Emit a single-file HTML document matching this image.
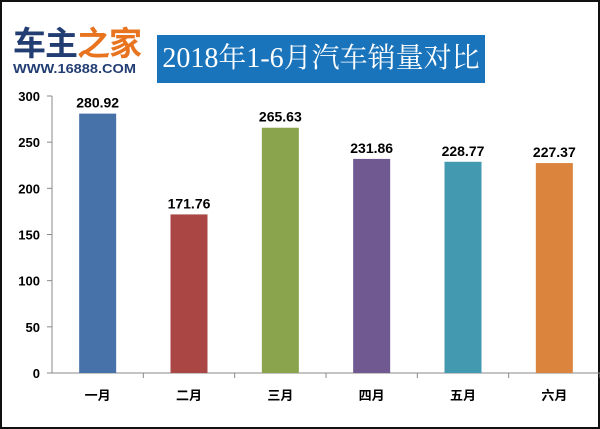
<!DOCTYPE html>
<html><head><meta charset="utf-8"><style>
body{margin:0;width:600px;height:429px;overflow:hidden;background:#fff;font-family:"Liberation Sans","Noto Sans CJK SC",sans-serif}
#frame{position:absolute;left:0;top:0;width:596px;height:425px;border:2px solid #111;background:#fff}
</style></head><body>
<div id="frame"></div>
<div style="position:absolute;left:13px;top:21px;">
<div style="font-size:33px;font-weight:bold;letter-spacing:-1px;line-height:40px;font-family:'Noto Sans CJK SC',sans-serif"><span style="color:#213d72">车主</span><span style="color:#e8741f">之家</span></div>
<div style="font-size:13px;font-weight:bold;color:#213d72;line-height:13px;margin-top:1px;transform:scaleX(1.12);transform-origin:left">WWW.16888.COM</div>
</div>
<div style="position:absolute;left:157px;top:35px;width:328px;height:48px;background:#1a74bc;color:#fff;font-family:'Liberation Serif','Noto Serif CJK SC',serif;font-size:28px;line-height:48px;text-align:center">2018年1-6月汽车销量对比</div>
<svg id="chart" width="600" height="429" style="position:absolute;left:0;top:0"></svg>
<script>
const categories=["一月","二月","三月","四月","五月","六月"];
const values=[280.92,171.76,265.63,231.86,228.77,227.37];
const colors=["#4771a9","#aa4644","#89a44c","#705890","#4299b0","#db843d"];
const ticks=[0,50,100,150,200,250,300];
const svg=document.getElementById('chart');const NS="http://www.w3.org/2000/svg";
const x0=52,x1=600,y0=373,y300=96;
const y=v=>y0-(v/300)*(y0-y300);
const cw=(x1-x0)/categories.length;
const xc=i=>x0+cw*(i+0.5);
function mk(t,a){const e=document.createElementNS(NS,t);for(const k in a)e.setAttribute(k,a[k]);svg.appendChild(e);return e;}
let ax=mk('line',{x1:x0,y1:y300,x2:x0,y2:y0,stroke:'#888'});


let bx=mk('line',{x1:x0,y1:y0,x2:x1,y2:y0,stroke:'#888'});


ticks.forEach(t=>{
 mk('line',{x1:x0-5,y1:y(t),x2:x0,y2:y(t),stroke:'#888'});
 const l=mk('text',{x:x0-12,y:y(t)+5,'text-anchor':'end','font-size':13,'font-weight':'bold',fill:'#000'});l.textContent=t;
 
 
});
categories.forEach((c,i)=>{
 mk('line',{x1:x0+cw*(i+1),y1:y0,x2:x0+cw*(i+1),y2:y0+5,stroke:'#888'});
 const r=mk('rect',{x:xc(i)-18.5,y:y(values[i]),width:37,height:y0-y(values[i]),fill:colors[i]});
 
 
 const v=mk('text',{x:xc(i),y:y(values[i])-6,'text-anchor':'middle','font-size':14,'font-weight':'bold',fill:'#000'});v.textContent=values[i].toFixed(2);
 
 
 const cl=mk('text',{x:xc(i),y:y0+27,'text-anchor':'middle','font-size':13,'font-weight':'bold',fill:'#000'});cl.textContent=c;
 
 
});
</script>
</body></html>
